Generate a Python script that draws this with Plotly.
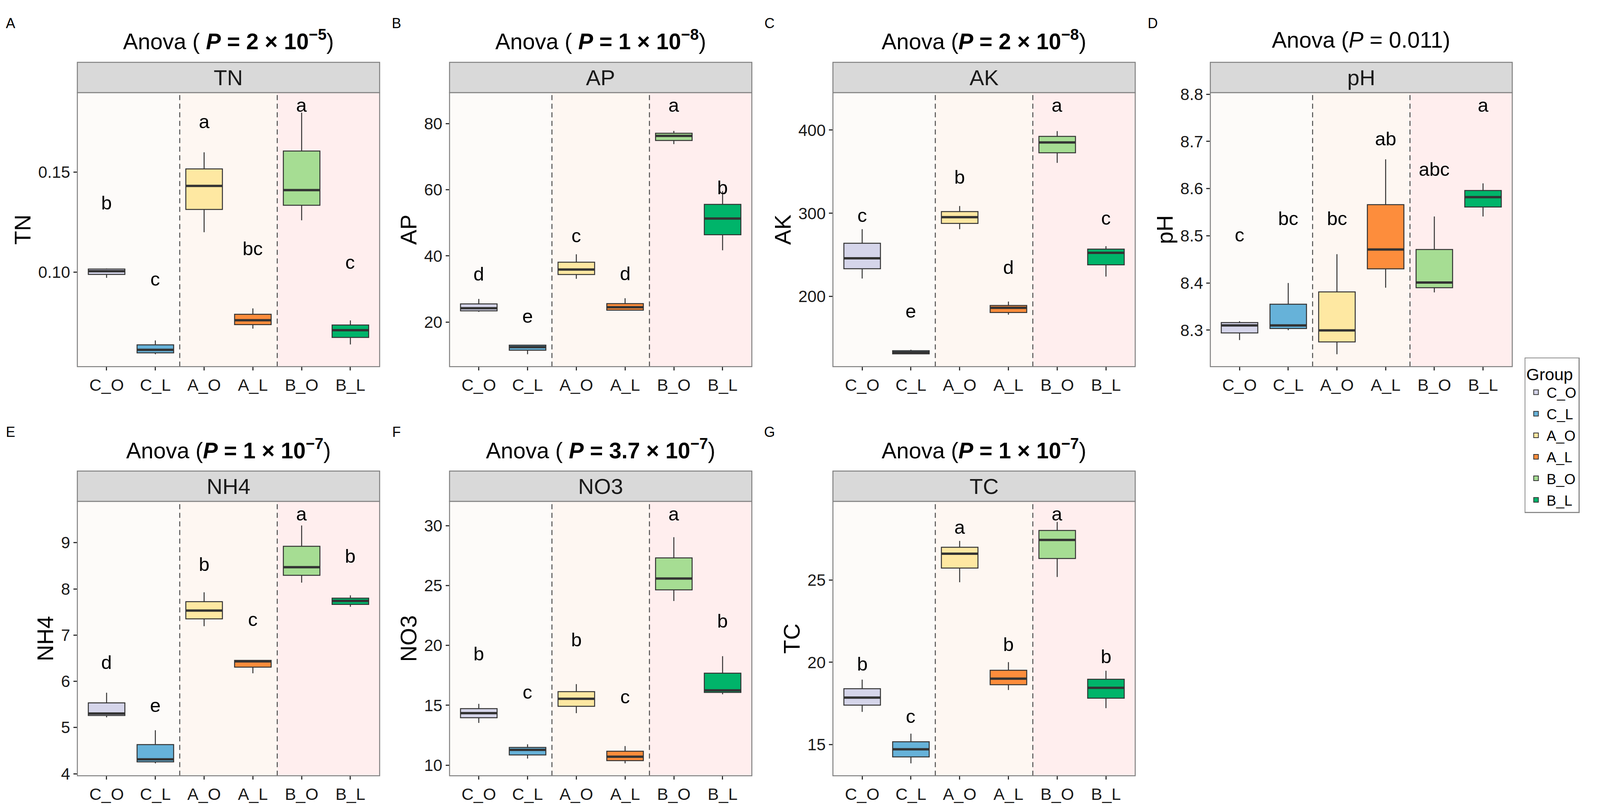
import plotly.graph_objects as go

# ===============================================================
# Data (box summaries per group)
# ===============================================================

groups = ["C_O", "C_L", "A_O", "A_L", "B_O", "B_L"]
group_colors = ["#D5D5EA", "#66B2D9", "#FEE8A2", "#FD8D3C", "#A6DD93", "#00B46A"]

variables = ["TN", "AP", "AK", "pH", "NH4", "NO3", "TC"]
panel_tags = ["A", "B", "C", "D", "E", "F", "G"]
titles = [
    "Anova ( <b><i>P</i> = 2 × 10<sup>−5</sup></b>)",
    "Anova ( <b><i>P</i> = 1 × 10<sup>−8</sup></b>)",
    "Anova (<b><i>P</i> = 2 × 10<sup>−8</sup></b>)",
    "Anova (<i>P</i> = 0.011)",
    "Anova (<b><i>P</i> = 1 × 10<sup>−7</sup></b>)",
    "Anova ( <b><i>P</i> = 3.7 × 10<sup>−7</sup></b>)",
    "Anova (<b><i>P</i> = 1 × 10<sup>−7</sup></b>)",
]

# TN
tn_low = [0.0971, 0.0589, 0.1199, 0.0717, 0.1259, 0.0638]
tn_q1 = [0.0988, 0.0596, 0.1313, 0.0737, 0.1334, 0.0673]
tn_med = [0.1004, 0.0611, 0.1431, 0.0759, 0.1410, 0.0709]
tn_q3 = [0.1015, 0.0636, 0.1516, 0.0789, 0.1605, 0.0735]
tn_high = [0.1018, 0.0658, 0.1599, 0.0818, 0.1797, 0.0758]
tn_letters = ["b", "c", "a", "bc", "a", "c"]
tn_letter_y = [0.1347, 0.0965, 0.1753, 0.1117, 0.1835, 0.1049]
tn_ticks = [0.10, 0.15]

# AP
ap_low = [23.1, 10.3, 33.1, 23.5, 73.8, 41.7]
ap_q1 = [23.4, 11.5, 34.4, 23.6, 74.9, 46.4]
ap_med = [24.2, 12.45, 35.9, 24.5, 76.3, 51.3]
ap_q3 = [25.5, 13.05, 38.1, 25.6, 77.1, 55.6]
ap_high = [27.0, 13.1, 40.5, 27.2, 77.8, 59.6]
ap_letters = ["d", "e", "c", "d", "a", "b"]
ap_letter_y = [34.6, 21.8, 46.1, 34.7, 85.6, 60.7]
ap_ticks = [20, 40, 60, 80]

# AK
ak_low = [221.6, 130.6, 280.9, 178.1, 360.7, 224.0]
ak_q1 = [233.4, 131.1, 287.8, 180.7, 372.7, 238.1]
ak_med = [245.9, 132.7, 295.3, 186.4, 385.2, 252.5]
ak_q3 = [264.0, 134.8, 302.1, 189.2, 392.5, 256.9]
ak_high = [280.9, 136.0, 308.7, 193.9, 398.8, 260.5]
ak_letters = ["c", "e", "b", "d", "a", "c"]
ak_letter_y = [297.6, 182.4, 343.5, 235.3, 430.1, 294.1]
ak_ticks = [200, 300, 400]

# pH
ph_low = [8.279, 8.300, 8.249, 8.390, 8.380, 8.541]
ph_q1 = [8.294, 8.3035, 8.275, 8.430, 8.390, 8.561]
ph_med = [8.310, 8.310, 8.2995, 8.471, 8.401, 8.582]
ph_q3 = [8.316, 8.355, 8.381, 8.566, 8.471, 8.596]
ph_high = [8.319, 8.400, 8.461, 8.662, 8.541, 8.611]
ph_letters = ["c", "bc", "bc", "ab", "abc", "a"]
ph_letter_y = [8.502, 8.537, 8.537, 8.706, 8.641, 8.777]
ph_ticks = [8.3, 8.4, 8.5, 8.6, 8.7, 8.8]

# NH4
nh4_low = [5.221, 4.225, 7.193, 6.174, 8.135, 7.614]
nh4_q1 = [5.260, 4.257, 7.352, 6.306, 8.294, 7.664]
nh4_med = [5.303, 4.312, 7.532, 6.432, 8.469, 7.740]
nh4_q3 = [5.533, 4.630, 7.724, 6.453, 8.923, 7.800]
nh4_high = [5.752, 4.942, 7.927, 6.453, 9.372, 7.861]
nh4_letters = ["d", "e", "b", "c", "a", "b"]
nh4_letter_y = [6.41, 5.479, 8.534, 7.341, 9.624, 8.71]
nh4_ticks = [4, 5, 6, 7, 8, 9]

# NO3
no3_low = [13.53, 10.55, 14.34, 10.15, 23.71, 15.92]
no3_q1 = [13.96, 10.85, 14.91, 10.38, 24.64, 16.07]
no3_med = [14.34, 11.27, 15.54, 10.70, 25.59, 16.24]
no3_q3 = [14.72, 11.48, 16.14, 11.16, 27.31, 17.68]
no3_high = [15.12, 11.74, 16.77, 11.59, 29.04, 19.10]
no3_letters = ["b", "c", "b", "c", "a", "b"]
no3_letter_y = [19.31, 16.09, 20.47, 15.71, 30.99, 22.06]
no3_ticks = [10, 15, 20, 25, 30]

# TC
tc_low = [16.99, 13.87, 24.86, 18.32, 25.18, 17.22]
tc_q1 = [17.40, 14.26, 25.72, 18.64, 26.30, 17.82]
tc_med = [17.86, 14.72, 26.59, 19.01, 27.43, 18.45]
tc_q3 = [18.40, 15.18, 26.98, 19.52, 28.00, 18.97]
tc_high = [18.95, 15.67, 27.37, 20.01, 28.52, 19.49]
tc_letters = ["b", "c", "a", "b", "a", "b"]
tc_letter_y = [19.90, 16.72, 28.20, 21.10, 29.01, 20.36]
tc_ticks = [15, 20, 25]

panels = [
    (tn_low, tn_q1, tn_med, tn_q3, tn_high, tn_letters, tn_letter_y, tn_ticks, ".2f"),
    (ap_low, ap_q1, ap_med, ap_q3, ap_high, ap_letters, ap_letter_y, ap_ticks, "d"),
    (ak_low, ak_q1, ak_med, ak_q3, ak_high, ak_letters, ak_letter_y, ak_ticks, "d"),
    (ph_low, ph_q1, ph_med, ph_q3, ph_high, ph_letters, ph_letter_y, ph_ticks, ".1f"),
    (nh4_low, nh4_q1, nh4_med, nh4_q3, nh4_high, nh4_letters, nh4_letter_y, nh4_ticks, "d"),
    (no3_low, no3_q1, no3_med, no3_q3, no3_high, no3_letters, no3_letter_y, no3_ticks, "d"),
    (tc_low, tc_q1, tc_med, tc_q3, tc_high, tc_letters, tc_letter_y, tc_ticks, "d"),
]

# ===============================================================
# Layout (pixel positions of each panel, on a 4303 x 2078 canvas)
# ===============================================================

W, H = 4303, 2078
FONT = "Liberation Sans"
col_px = [(208, 1021), (1209, 2022), (2240, 3053), (3255, 4067),
          (208, 1021), (1209, 2022), (2240, 3053)]
row_px = [(222, 936)] * 4 + [(1287, 2002)] * 3      # plot area top/bottom
strip_h = 79
title_off = 137      # title centre above plot top
tag_off = 181        # panel letter above plot top
tag_x = [28, 1066, 2070, 3100, 28, 1066, 2070]

region_colors = {"C": "#FDFBF9", "A": "#FEF7F2", "B": "#FFEEEE"}
border = "#808080"
ink = "#333333"
x_range = [-0.6, len(groups) - 0.4]


def px_x(v):
    return v / W


def px_y(v):
    return 1 - v / H


def label(text, x, y, size, color="black"):
    # centred text annotation in paper coordinates
    return dict(text=text, xref="paper", yref="paper", x=px_x(x), y=px_y(y),
                xanchor="center", yanchor="middle", showarrow=False,
                font=dict(size=size, color=color, family=FONT))


fig = go.Figure()
shapes, annotations = [], []

for i, var in enumerate(variables):
    low, q1, med, q3, high, letters, letter_y, ticks, fmt = panels[i]
    n = "" if i == 0 else str(i + 1)
    xa, ya = "x" + n, "y" + n
    x0, x1 = col_px[i]
    top, bot = row_px[i]

    # boxes, then a thick median line on top of each box
    for j, g in enumerate(groups):
        fig.add_trace(go.Box(
            x=[g], q1=[q1[j]], median=[med[j]], q3=[q3[j]],
            lowerfence=[low[j]], upperfence=[high[j]],
            fillcolor=group_colors[j], line=dict(color=ink, width=2.5),
            width=0.75, whiskerwidth=0, boxpoints=False,
            name=g, legendgroup=g, showlegend=(i == 0),
            hoverinfo="skip", xaxis=xa, yaxis=ya))
        fig.add_trace(go.Box(
            x=[g], q1=[med[j]], median=[med[j]], q3=[med[j]],
            lowerfence=[med[j]], upperfence=[med[j]],
            fillcolor="rgba(0,0,0,0)", line=dict(color=ink, width=6),
            width=0.75, whiskerwidth=0, boxpoints=False,
            name=g, legendgroup=g, showlegend=False,
            hoverinfo="skip", xaxis=xa, yaxis=ya))

    # y range as ggplot: data + letters, expanded 5%
    lo = min(low)
    hi = max(max(high), max(letter_y))
    pad = (hi - lo) * 0.05

    fig.update_layout(**{
        "xaxis" + n: dict(domain=[px_x(x0), px_x(x1)], anchor=ya, type="category",
                          categoryorder="array", categoryarray=groups, range=x_range,
                          showgrid=False, zeroline=False, showline=False,
                          ticks="outside", ticklen=9, tickwidth=2.5, tickcolor=ink,
                          tickfont=dict(size=43, color="#1a1a1a", family=FONT)),
        "yaxis" + n: dict(domain=[px_y(bot), px_y(top)], anchor=xa,
                          range=[lo - pad, hi + pad], tickvals=ticks, tickformat=fmt,
                          showgrid=False, zeroline=False, showline=False,
                          ticks="outside", ticklen=9, tickwidth=2.5, tickcolor=ink,
                          tickfont=dict(size=42, color="#1a1a1a", family=FONT),
                          title=dict(text=var, standoff=0,
                                     font=dict(size=58, color="black", family=FONT))),
    })

    # shaded treatment regions and dashed separators
    prefixes = [g.split("_")[0] for g in groups]
    starts = [j for j in range(len(groups)) if j == 0 or prefixes[j] != prefixes[j - 1]]
    for k, s in enumerate(starts):
        e = starts[k + 1] - 1 if k + 1 < len(starts) else len(groups) - 1
        rx0 = x_range[0] if k == 0 else s - 0.5
        rx1 = x_range[1] if k == len(starts) - 1 else e + 0.5
        shapes.append(dict(type="rect", xref=xa, yref=ya + " domain", x0=rx0, x1=rx1,
                           y0=0, y1=1, fillcolor=region_colors[prefixes[s]],
                           line=dict(width=0), layer="below"))
        if k > 0:
            shapes.append(dict(type="line", xref=xa, yref=ya + " domain", x0=s - 0.5,
                               x1=s - 0.5, y0=0, y1=1, layer="below",
                               line=dict(color="#4D4D4D", width=2.5, dash="13px,9px")))

    # panel border and strip
    shapes.append(dict(type="rect", xref=xa + " domain", yref=ya + " domain",
                       x0=0, x1=1, y0=0, y1=1, line=dict(color=border, width=2.5)))
    shapes.append(dict(type="rect", xref="paper", yref="paper",
                       x0=px_x(x0), x1=px_x(x1), y0=px_y(top), y1=px_y(top - strip_h),
                       fillcolor="#D9D9D9", line=dict(color=border, width=2.5)))
    annotations.append(label(var, (x0 + x1) / 2, top - strip_h / 2, 56, "#1a1a1a"))
    annotations.append(label(titles[i], (x0 + x1) / 2, top - title_off, 57))
    annotations.append(label(panel_tags[i], tag_x[i], top - tag_off, 36))

    # significance letters
    for j, g in enumerate(groups):
        annotations.append(dict(text=letters[j], xref=xa, yref=ya, x=g, y=letter_y[j],
                                xanchor="center", yanchor="middle", showarrow=False,
                                font=dict(size=49, color="black", family=FONT)))

fig.update_layout(
    width=W, height=H,
    margin=dict(l=0, r=0, t=0, b=0),
    paper_bgcolor="white", plot_bgcolor="white",
    font=dict(family=FONT, color="black"),
    boxmode="overlay",
    shapes=shapes, annotations=annotations,
    legend=dict(x=px_x(4100), y=px_y(912), xanchor="left", yanchor="top",
                bordercolor="#8C8C8C", borderwidth=2.5, bgcolor="white",
                title=dict(text="Group", font=dict(size=43, family=FONT)),
                font=dict(size=37, family=FONT), tracegroupgap=4,
                itemsizing="constant", itemwidth=44),
)

# fit the figure to the browser viewport so nothing is clipped on the right
fit_js = """
document.body.style.margin = '0px';
document.body.style.overflow = 'hidden';
var gd = document.getElementById('{plot_id}');
Plotly.relayout(gd, {width: window.innerWidth, height: window.innerHeight});
"""

fig.write_html("out.html", post_script=fit_js, config={"displayModeBar": False})
